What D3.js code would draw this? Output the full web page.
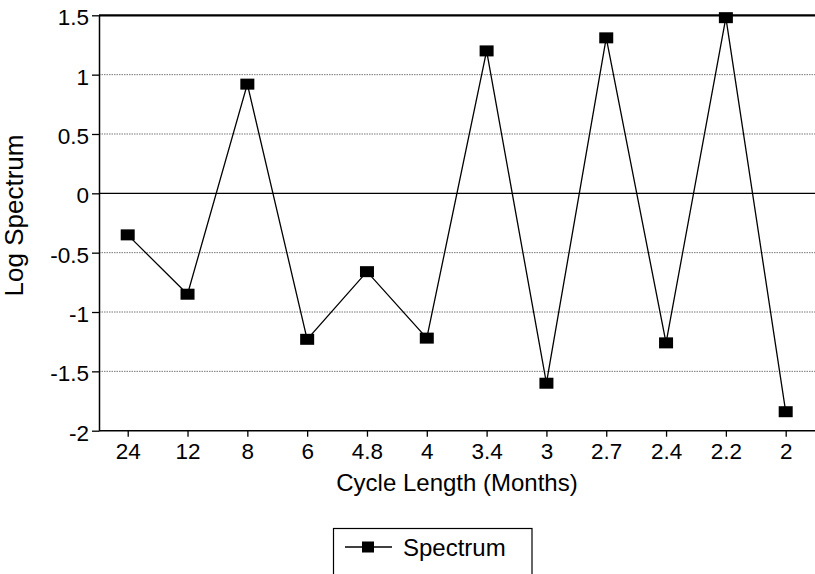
<!DOCTYPE html>
<html>
<head>
<meta charset="utf-8">
<script src="https://cdn.jsdelivr.net/npm/d3@7"></script>
<style>
  body { margin: 0; background: #fff; }
  svg { display: block; font-family: "Liberation Sans", Arial, Helvetica, sans-serif; }
</style>
</head>
<body>
<svg id="chart" width="815" height="574"></svg>
<script>
const categories = ["24", "12", "8", "6", "4.8", "4", "3.4", "3", "2.7", "2.4", "2.2", "2"];
const spectrum = [-0.35, -0.85, 0.92, -1.23, -0.66, -1.22, 1.2, -1.6, 1.31, -1.26, 1.48, -1.84];
const yTicks = [-2, -1.5, -1, -0.5, 0, 0.5, 1, 1.5];
const yTickLabels = ["-2", "-1.5", "-1", "-0.5", "0", "0.5", "1", "1.5"];
const seriesName = "Spectrum";
const xTitle = "Cycle Length (Months)";
const yTitle = "Log Spectrum";

const svg = d3.select("#chart");
const axisX = 99, plotRight = 815;

const x = d3.scalePoint().domain(categories).range([97.8, 815.6]).padding(0.5);
const y = d3.scaleLinear().domain([-2, 1.5]).range([430.7, 15.3]);

// gridlines
const grid = svg.append("g");
yTicks.forEach(v => {
  if (v === -2) return;
  const line = grid.append("line")
    .attr("x1", axisX).attr("x2", plotRight)
    .attr("y1", y(v)).attr("y2", y(v));
  if (v === 1.5) {
    line.attr("stroke", "#000").attr("stroke-width", 2.2);
  } else if (v === 0) {
    line.attr("stroke", "#000").attr("stroke-width", 1.4);
  } else {
    line.attr("stroke", "#777").attr("stroke-width", 1).attr("stroke-dasharray", "1.5,1");
  }
});

// y axis
const yAxis = d3.axisLeft(y).tickValues(yTicks)
  .tickFormat((d, i) => yTickLabels[i]).tickSize(7).tickSizeOuter(0).tickPadding(3);
const gy = svg.append("g").attr("transform", `translate(${axisX},0)`).call(yAxis);
gy.select(".domain").attr("stroke", "#000").attr("stroke-width", 1.5);
gy.selectAll(".tick line").attr("stroke", "#000").attr("stroke-width", 1.3);
gy.selectAll(".tick text").attr("font-size", 22.5).attr("fill", "#000")
  .attr("font-family", "'Liberation Sans', Arial, sans-serif").attr("dy", "0.42em");

// x axis
const xAxis = d3.axisBottom(x).tickSize(6).tickSizeOuter(0).tickPadding(6);
const gx = svg.append("g").attr("transform", `translate(0,${y(-2)})`).call(xAxis);
gx.select(".domain").attr("d", `M${axisX},0H${plotRight}`).attr("stroke", "#000").attr("stroke-width", 1.5);
gx.selectAll(".tick line").attr("stroke", "#000").attr("stroke-width", 1.3);
gx.selectAll(".tick text").attr("font-size", 22.5).attr("fill", "#000")
  .attr("font-family", "'Liberation Sans', Arial, sans-serif");

// line series
const lineGen = d3.line().x((d, i) => x(categories[i])).y(d => y(d));
svg.append("path").datum(spectrum)
  .attr("d", lineGen).attr("fill", "none").attr("stroke", "#000").attr("stroke-width", 1.3);

const mw = 14, mh = 11;
svg.append("g").selectAll("rect").data(spectrum).join("rect")
  .attr("x", (d, i) => x(categories[i]) - mw / 2)
  .attr("y", d => y(d) - mh / 2)
  .attr("width", mw).attr("height", mh).attr("fill", "#000");

// axis titles
svg.append("text").attr("x", 457).attr("y", 491).attr("text-anchor", "middle")
  .attr("font-size", 24).attr("fill", "#000").text(xTitle);
svg.append("text").attr("transform", "translate(23,215.5) rotate(-90)")
  .attr("text-anchor", "middle").attr("font-size", 26).attr("fill", "#000").text(yTitle);

// legend
const lg = svg.append("g");
lg.append("rect").attr("x", 333.5).attr("y", 528.5).attr("width", 198.5).attr("height", 60)
  .attr("fill", "none").attr("stroke", "#000").attr("stroke-width", 1.2);
lg.append("line").attr("x1", 345).attr("x2", 392).attr("y1", 547).attr("y2", 547)
  .attr("stroke", "#000").attr("stroke-width", 1.5);
lg.append("rect").attr("x", 362).attr("y", 541.5).attr("width", 12).attr("height", 11).attr("fill", "#000");
lg.append("text").attr("x", 403).attr("y", 556).attr("font-size", 24).attr("fill", "#000").text(seriesName);
</script>
</body>
</html>
